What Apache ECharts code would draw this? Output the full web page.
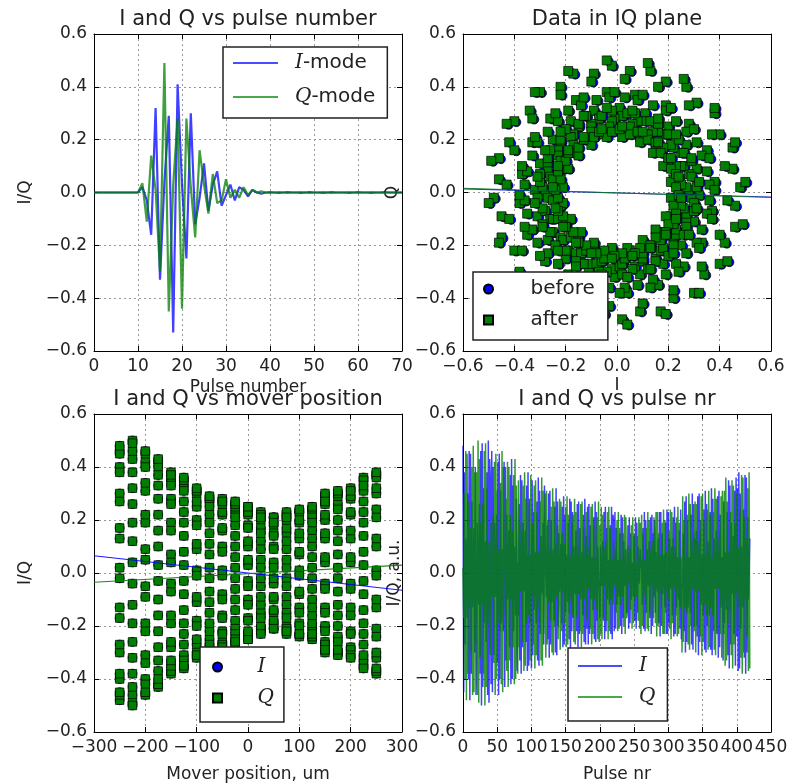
<!DOCTYPE html>
<html>
<head>
<meta charset="utf-8">
<script src="https://cdn.jsdelivr.net/npm/echarts/dist/echarts.min.js"></script>
<style>
  html, body { margin: 0; padding: 0; background: #fff; }
  #main { width: 794px; height: 784px; }
</style>
</head>
<body>
<div id="main"></div>
<script>
// ---- data ----
// top-left: response vs pulse number (index = pulse number)
var tlI = [0, 0, 0, 0, 0, 0, 0, 0, 0, 0,
  0, 0.02, -0.03, -0.16, 0.32, -0.33, 0.04, 0.29, -0.53, 0.41,
  0.03, -0.25, 0.30, -0.12, -0.02, 0.11, -0.07, 0.03, 0.08, -0.05,
  -0.01, 0.03, -0.03, 0.02, 0.01, -0.015, 0.01, 0, -0.005, 0,
  0.002, 0, -0.002, 0, 0.002, 0, 0, -0.002, 0, 0.002,
  0, 0, -0.002, 0, 0.002, 0, 0, 0, -0.002, 0,
  0.002, 0, 0, -0.002, 0, 0, 0.002, 0, 0, 0, 0];
var tlQ = [0, 0, 0, 0, 0, 0, 0, 0, 0, 0,
  0, 0.035, -0.11, 0.14, 0.01, -0.30, 0.49, -0.45, 0.03, 0.28,
  -0.44, 0.28, 0.02, -0.17, 0.16, 0.03, -0.08, 0.07, -0.04, -0.03,
  0.05, -0.02, 0.01, -0.02, 0.02, -0.01, 0.01, 0, 0.005, 0,
  -0.002, 0, 0.002, 0, -0.002, 0, 0, 0.002, 0, -0.002,
  0, 0, 0.002, 0, -0.002, 0, 0, 0, 0.002, 0,
  -0.002, 0, 0, 0.002, 0, 0, -0.002, 0, 0, 0, 0];

// mover positions (um), 20 pulses per position
var movPos = [-250, -225, -200, -175, -150, -125, -100, -75, -50, -25, 0, 25, 50, 75, 100, 125, 150, 175, 200, 225, 250];
var iCols = [
  [0.48, -0.45, 0.38, -0.27, 0.13, 0.02, -0.17, 0.30, -0.40, 0.46, -0.48, 0.45, -0.38, 0.27, -0.13, -0.02, 0.17, -0.30, 0.40, -0.46],
  [-0.32, 0.19, -0.04, -0.12, 0.26, -0.38, 0.46, -0.50, 0.49, -0.43, 0.32, -0.19, 0.04, 0.12, -0.26, 0.38, -0.46, 0.50, -0.49, 0.43],
  [0.34, -0.42, 0.46, -0.45, 0.40, -0.31, 0.19, -0.05, -0.09, 0.22, -0.34, 0.42, -0.46, 0.45, -0.40, 0.31, -0.19, 0.05, 0.09, -0.22],
  [0.42, -0.43, 0.40, -0.33, 0.22, -0.10, -0.03, 0.16, -0.28, 0.37, -0.42, 0.43, -0.40, 0.33, -0.22, 0.10, 0.03, -0.16, 0.28, -0.37],
  [0.04, -0.16, 0.26, -0.33, 0.37, -0.38, 0.35, -0.28, 0.19, -0.07, -0.04, 0.16, -0.26, 0.33, -0.37, 0.38, -0.35, 0.28, -0.19, 0.07],
  [-0.36, 0.35, -0.31, 0.23, -0.14, 0.03, 0.08, -0.19, 0.27, -0.33, 0.36, -0.35, 0.31, -0.23, 0.14, -0.03, -0.08, 0.19, -0.27, 0.33],
  [0.11, -0.01, -0.09, 0.18, -0.25, 0.30, -0.32, 0.31, -0.27, 0.20, -0.11, 0.01, 0.09, -0.18, 0.25, -0.30, 0.32, -0.31, 0.27, -0.20],
  [0.15, -0.07, -0.02, 0.11, -0.19, 0.25, -0.28, 0.29, -0.27, 0.22, -0.15, 0.07, 0.02, -0.11, 0.19, -0.25, 0.28, -0.29, 0.27, -0.22],
  [0.23, -0.17, 0.10, -0.01, -0.08, 0.16, -0.22, 0.26, -0.28, 0.27, -0.23, 0.17, -0.10, 0.01, 0.08, -0.16, 0.22, -0.26, 0.28, -0.27],
  [0.14, -0.21, 0.25, -0.27, 0.26, -0.23, 0.18, -0.10, 0.02, 0.06, -0.14, 0.21, -0.25, 0.27, -0.26, 0.23, -0.18, 0.10, -0.02, -0.06],
  [-0.17, 0.10, -0.03, -0.05, 0.12, -0.18, 0.23, -0.25, 0.25, -0.22, 0.17, -0.10, 0.03, 0.05, -0.12, 0.18, -0.23, 0.25, -0.25, 0.22],
  [0.20, -0.22, 0.23, -0.21, 0.17, -0.12, 0.05, 0.02, -0.09, 0.15, -0.20, 0.22, -0.23, 0.21, -0.17, 0.12, -0.05, -0.02, 0.09, -0.15],
  [-0.14, 0.18, -0.21, 0.21, -0.19, 0.15, -0.10, 0.04, 0.02, -0.09, 0.14, -0.18, 0.21, -0.21, 0.19, -0.15, 0.10, -0.04, -0.02, 0.09],
  [0.02, 0.05, -0.12, 0.17, -0.21, 0.23, -0.22, 0.20, -0.15, 0.09, -0.02, -0.05, 0.12, -0.17, 0.21, -0.23, 0.22, -0.20, 0.15, -0.09],
  [0.20, -0.15, 0.08, -0.01, -0.07, 0.13, -0.19, 0.23, -0.24, 0.23, -0.20, 0.15, -0.08, 0.01, 0.07, -0.13, 0.19, -0.23, 0.24, -0.23],
  [0.23, -0.19, 0.13, -0.06, -0.02, 0.10, -0.16, 0.21, -0.24, 0.25, -0.23, 0.19, -0.13, 0.06, 0.02, -0.10, 0.16, -0.21, 0.24, -0.25],
  [-0.04, -0.06, 0.15, -0.22, 0.27, -0.30, 0.29, -0.26, 0.20, -0.13, 0.04, 0.06, -0.15, 0.22, -0.27, 0.30, -0.29, 0.26, -0.20, 0.13],
  [-0.07, 0.16, -0.24, 0.29, -0.31, 0.30, -0.26, 0.20, -0.12, 0.02, 0.07, -0.16, 0.24, -0.29, 0.31, -0.30, 0.26, -0.20, 0.12, -0.02],
  [-0.16, 0.23, -0.29, 0.32, -0.31, 0.28, -0.22, 0.13, -0.04, -0.06, 0.16, -0.23, 0.29, -0.32, 0.31, -0.28, 0.22, -0.13, 0.04, 0.06],
  [-0.33, 0.27, -0.19, 0.08, 0.03, -0.14, 0.23, -0.31, 0.35, -0.36, 0.33, -0.27, 0.19, -0.08, -0.03, 0.14, -0.23, 0.31, -0.35, 0.36],
  [-0.24, 0.32, -0.37, 0.38, -0.36, 0.30, -0.21, 0.10, 0.01, -0.13, 0.24, -0.32, 0.37, -0.38, 0.36, -0.30, 0.21, -0.10, -0.01, 0.13]
];
var qCols = [
  [0.02, -0.17, 0.30, -0.40, 0.46, -0.48, 0.45, -0.38, 0.27, -0.13, -0.02, 0.17, -0.30, 0.40, -0.46, 0.48, -0.45, 0.38, -0.27, 0.13],
  [0.38, -0.46, 0.50, -0.49, 0.43, -0.32, 0.19, -0.04, -0.12, 0.26, -0.38, 0.46, -0.50, 0.49, -0.43, 0.32, -0.19, 0.04, 0.12, -0.26],
  [-0.31, 0.19, -0.05, -0.09, 0.22, -0.34, 0.42, -0.46, 0.45, -0.40, 0.31, -0.19, 0.05, 0.09, -0.22, 0.34, -0.42, 0.46, -0.45, 0.40],
  [0.10, 0.03, -0.16, 0.28, -0.37, 0.42, -0.43, 0.40, -0.33, 0.22, -0.10, -0.03, 0.16, -0.28, 0.37, -0.42, 0.43, -0.40, 0.33, -0.22],
  [-0.38, 0.35, -0.28, 0.19, -0.07, -0.04, 0.16, -0.26, 0.33, -0.37, 0.38, -0.35, 0.28, -0.19, 0.07, 0.04, -0.16, 0.26, -0.33, 0.37],
  [-0.03, -0.08, 0.19, -0.27, 0.33, -0.36, 0.35, -0.31, 0.23, -0.14, 0.03, 0.08, -0.19, 0.27, -0.33, 0.36, -0.35, 0.31, -0.23, 0.14],
  [0.30, -0.32, 0.31, -0.27, 0.20, -0.11, 0.01, 0.09, -0.18, 0.25, -0.30, 0.32, -0.31, 0.27, -0.20, 0.11, -0.01, -0.09, 0.18, -0.25],
  [-0.25, 0.28, -0.29, 0.27, -0.22, 0.15, -0.07, -0.02, 0.11, -0.19, 0.25, -0.28, 0.29, -0.27, 0.22, -0.15, 0.07, 0.02, -0.11, 0.19],
  [-0.16, 0.22, -0.26, 0.28, -0.27, 0.23, -0.17, 0.10, -0.01, -0.08, 0.16, -0.22, 0.26, -0.28, 0.27, -0.23, 0.17, -0.10, 0.01, 0.08],
  [0.23, -0.18, 0.10, -0.02, -0.06, 0.14, -0.21, 0.25, -0.27, 0.26, -0.23, 0.18, -0.10, 0.02, 0.06, -0.14, 0.21, -0.25, 0.27, -0.26],
  [0.18, -0.23, 0.25, -0.25, 0.22, -0.17, 0.10, -0.03, -0.05, 0.12, -0.18, 0.23, -0.25, 0.25, -0.22, 0.17, -0.10, 0.03, 0.05, -0.12],
  [0.12, -0.05, -0.02, 0.09, -0.15, 0.20, -0.22, 0.23, -0.21, 0.17, -0.12, 0.05, 0.02, -0.09, 0.15, -0.20, 0.22, -0.23, 0.21, -0.17],
  [-0.15, 0.10, -0.04, -0.02, 0.09, -0.14, 0.18, -0.21, 0.21, -0.19, 0.15, -0.10, 0.04, 0.02, -0.09, 0.14, -0.18, 0.21, -0.21, 0.19],
  [-0.23, 0.22, -0.20, 0.15, -0.09, 0.02, 0.05, -0.12, 0.17, -0.21, 0.23, -0.22, 0.20, -0.15, 0.09, -0.02, -0.05, 0.12, -0.17, 0.21],
  [0.13, -0.19, 0.23, -0.24, 0.23, -0.20, 0.15, -0.08, 0.01, 0.07, -0.13, 0.19, -0.23, 0.24, -0.23, 0.20, -0.15, 0.08, -0.01, -0.07],
  [-0.10, 0.16, -0.21, 0.24, -0.25, 0.23, -0.19, 0.13, -0.06, -0.02, 0.10, -0.16, 0.21, -0.24, 0.25, -0.23, 0.19, -0.13, 0.06, 0.02],
  [-0.30, 0.29, -0.26, 0.20, -0.13, 0.04, 0.06, -0.15, 0.22, -0.27, 0.30, -0.29, 0.26, -0.20, 0.13, -0.04, -0.06, 0.15, -0.22, 0.27],
  [-0.30, 0.26, -0.20, 0.12, -0.02, -0.07, 0.16, -0.24, 0.29, -0.31, 0.30, -0.26, 0.20, -0.12, 0.02, 0.07, -0.16, 0.24, -0.29, 0.31],
  [-0.28, 0.22, -0.13, 0.04, 0.06, -0.16, 0.23, -0.29, 0.32, -0.31, 0.28, -0.22, 0.13, -0.04, -0.06, 0.16, -0.23, 0.29, -0.32, 0.31],
  [0.14, -0.23, 0.31, -0.35, 0.36, -0.33, 0.27, -0.19, 0.08, 0.03, -0.14, 0.23, -0.31, 0.35, -0.36, 0.33, -0.27, 0.19, -0.08, -0.03],
  [0.30, -0.21, 0.10, 0.01, -0.13, 0.24, -0.32, 0.37, -0.38, 0.36, -0.30, 0.21, -0.10, -0.01, 0.13, -0.24, 0.32, -0.37, 0.38, -0.36]
];

// fitted lines
var fitPos = [-300, 300];
var fitPosI = [0.065, -0.065];
var fitPosQ = [-0.035, 0.03];
var iqEdge = [-0.6, 0.6];
var iqFitBefore = [0.014, -0.017];
var iqFitAfter = [0.016, -0.019];

// ---- build ----
var font = 'DejaVu Sans';
var ink = '#222';
var blue = '#0000ff';
var green = '#008000';
var lineIcon = 'path://M0,0L45,0L45,2L0,2Z';
var squareIcon = 'path://M0,0L10,0L10,10L0,10Z';

var pulseI = [].concat.apply([], iCols);
var pulseQ = [].concat.apply([], qCols);

function pairs(xs, ys) { return xs.map(function (x, i) { return [x, ys[i]]; }); }
function byIndex(ys) { return ys.map(function (y, i) { return [i, y]; }); }
function byPos(cols) {
    var out = [];
    cols.forEach(function (col, c) {
        col.forEach(function (v) { out.push([movPos[c], v]); });
    });
    return out;
}

function minus(s) { return s.replace('-', '\u2212'); }
function fmt1(v) { return minus(Math.abs(v) < 1e-9 ? '0.0' : v.toFixed(1)); }
function fmt0(v) { return minus(String(Math.round(v))); }

function axes(kind, gi, min, max, step, labelFmt, name, nameGap) {
    var common = {
        type: 'value', gridIndex: gi, min: min, max: max, interval: step,
        axisLine: { show: true, onZero: false, lineStyle: { color: '#000', width: 1 } },
        axisTick: { show: true, inside: true, length: 5, lineStyle: { color: '#000' } }
    };
    var main = Object.assign({}, common, {
        position: kind === 'x' ? 'bottom' : 'left',
        name: name, nameLocation: 'middle', nameGap: nameGap, nameMoveOverlap: false,
        nameTextStyle: { fontFamily: font, fontSize: 17, color: ink },
        axisLabel: { show: true, margin: 7, hideOverlap: false, fontFamily: font, fontSize: 17, color: ink, formatter: labelFmt },
        splitLine: { show: true, lineStyle: { color: '#999', type: [2, 3], width: 1 } }
    });
    var mirror = Object.assign({}, common, {
        position: kind === 'x' ? 'top' : 'right',
        axisLabel: { show: false },
        splitLine: { show: false }
    });
    return [main, mirror];
}

var grids = [
    { left: 94, top: 34, width: 308, height: 317 },
    { left: 463, top: 34, width: 308, height: 317 },
    { left: 94, top: 414, width: 308, height: 318 },
    { left: 463, top: 414, width: 308, height: 318 }
];
grids.forEach(function (g) { g.outerBoundsMode = 'none'; g.containLabel = false; });

var xAxes = [].concat(
    axes('x', 0, 0, 70, 10, fmt0, 'Pulse number', 28),
    axes('x', 1, -0.6, 0.6, 0.2, fmt1, 'I', 26),
    axes('x', 2, -300, 300, 100, fmt0, 'Mover position, um', 34),
    axes('x', 3, 0, 450, 50, fmt0, 'Pulse nr', 34)
);
var yAxes = [].concat(
    axes('y', 0, -0.6, 0.6, 0.2, fmt1, 'I/Q', 60),
    axes('y', 1, -0.6, 0.6, 0.2, fmt1, 'Q', 62),
    axes('y', 2, -0.6, 0.6, 0.2, fmt1, 'I/Q', 60),
    axes('y', 3, -0.6, 0.6, 0.2, fmt1, 'I/Q, a.u.', 60)
);

function title(text, cx, top) {
    return { text: text, left: cx, top: top, textAlign: 'center', padding: 0,
        textStyle: { fontFamily: font, fontSize: 21, fontWeight: 'normal', color: ink } };
}

var labels = {
    'I-mode': '{m|I}-mode', 'Q-mode': '{m|Q}-mode',
    before: 'before', after: 'after',
    Ipos: '{m|I}', Qpos: '{m|Q}', Inr: '{m|I}', Qnr: '{m|Q}'
};
function legend(items, left, top, pad, gap, iw, ih, textPad, iconOpacity) {
    return {
        data: items, left: left, top: top, orient: 'vertical', selectedMode: false,
        padding: pad, itemGap: gap, itemWidth: iw, itemHeight: ih,
        backgroundColor: '#fff', borderColor: '#222', borderWidth: 1.5, borderRadius: 0,
        itemStyle: { opacity: iconOpacity },
        formatter: function (n) { return labels[n]; },
        textStyle: {
            fontFamily: font, fontSize: 20, color: ink, lineHeight: 22, padding: [0, 0, 0, textPad],
            rich: { m: { fontFamily: 'DejaVu Serif', fontStyle: 'italic', fontSize: 20, color: ink } }
        }
    };
}

function lineS(name, xi, data, color, width, opacity) {
    return { name: name, type: 'line', xAxisIndex: xi, yAxisIndex: xi, data: data,
        symbol: 'none', showSymbol: false, color: color,
        itemStyle: { color: color },
        lineStyle: { color: color, width: width, opacity: opacity } };
}
function dotS(name, xi, data, shape, size, color, offset) {
    return { name: name, type: 'scatter', xAxisIndex: xi, yAxisIndex: xi, data: data,
        symbol: shape, symbolSize: size, symbolOffset: offset || [0, 0], color: color,
        itemStyle: { color: color, borderColor: '#000', borderWidth: 0.7, opacity: 1 } };
}

var option = {
    animation: false,
    backgroundColor: '#fff',
    grid: grids,
    xAxis: xAxes,
    yAxis: yAxes,
    title: [
        title('I and Q vs pulse number', 248, 9),
        title('Data in IQ plane', 617, 9),
        title('I and Q vs mover position', 248, 389),
        title('I and Q vs pulse nr', 617, 389)
    ],
    legend: [
        legend([{ name: 'I-mode', icon: lineIcon }, { name: 'Q-mode', icon: lineIcon }], 223, 47, [5, 12, 10, 10], 12, 45, 14, 12, 0.7),
        legend([{ name: 'before', icon: 'circle' }, { name: 'after', icon: squareIcon }], 473, 272, [6, 13, 9, 10], 9, 40, 9, 17, 1),
        legend([{ name: 'Ipos', icon: 'circle' }, { name: 'Qpos', icon: squareIcon }], 200, 647, [9, 10, 13, 12], 9, 40, 9, 15, 1),
        legend([{ name: 'Inr', icon: lineIcon }, { name: 'Qnr', icon: lineIcon }], 568, 648, [7, 12, 13, 10], 9, 44, 14, 12, 0.7)
    ],
    series: [
        lineS('I-mode', 0, byIndex(tlI), blue, 2.2, 0.75),
        lineS('Q-mode', 0, byIndex(tlQ), green, 2.2, 0.75),

        dotS('before', 2, pairs(pulseI, pulseQ), 'circle', 9, blue, [2, 1]),
        dotS('after', 2, pairs(pulseI, pulseQ), 'rect', 9, green),
        lineS('fitBefore', 2, pairs(iqEdge, iqFitBefore), blue, 1.2, 0.8),
        lineS('fitAfter', 2, pairs(iqEdge, iqFitAfter), green, 1.2, 0.8),

        dotS('Ipos', 4, byPos(iCols), 'circle', 9, blue),
        dotS('Qpos', 4, byPos(qCols), 'rect', 8.5, green),
        lineS('fitI', 4, pairs(fitPos, fitPosI), blue, 1.2, 0.9),
        lineS('fitQ', 4, pairs(fitPos, fitPosQ), green, 1.2, 0.9),

        lineS('Inr', 6, byIndex(pulseI), blue, 1.5, 0.75),
        lineS('Qnr', 6, byIndex(pulseQ), green, 1.5, 0.8)
    ]
};

var chart = echarts.init(document.getElementById('main'), null, { renderer: 'canvas' });
chart.setOption(option);
</script>
</body>
</html>
